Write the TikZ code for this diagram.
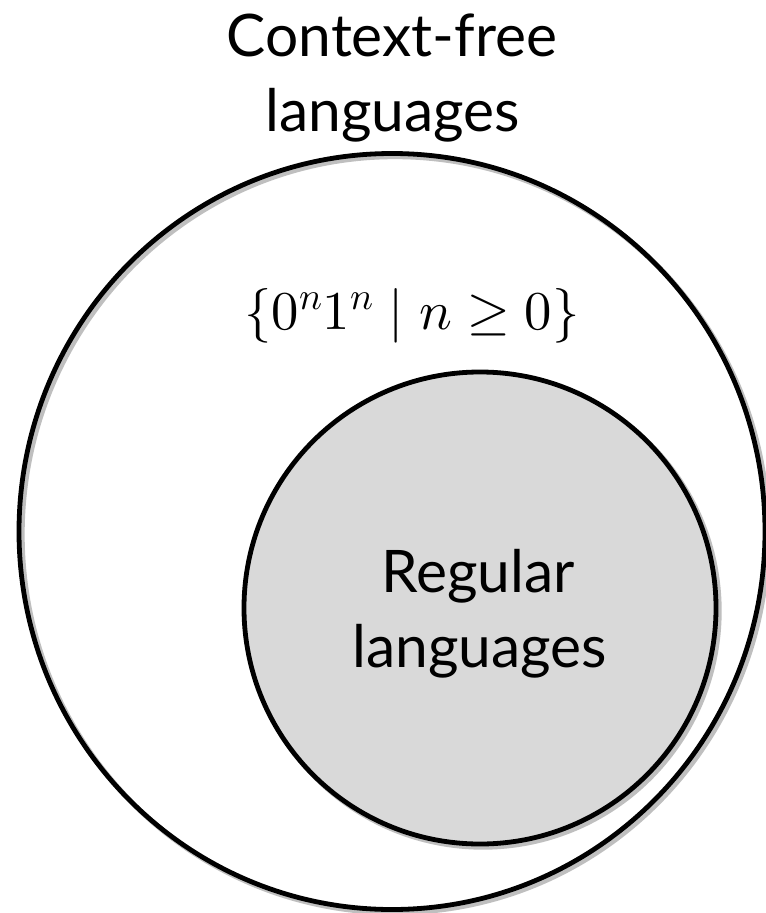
\documentclass[tikz,border=0pt]{standalone}
\usepackage{fontspec}
\setmainfont{Lato}
\usepackage{unicode-math}
\setmathfont{Latin Modern Math}
\begin{document}
\begin{tikzpicture}[x=0.75pt,y=-0.75pt,
  ring/.style={draw=black,line width=3.6pt},
  shade/.style={draw=black!25,line width=4pt},
  lbl/.style={anchor=base,inner sep=0pt,font=\fontsize{44}{53}\selectfont}]
\useasboundingbox (0,0) rectangle (766,913);
% outer
\draw[shade] (395,534.5) ellipse [x radius=373, y radius=378];
\draw[ring] (392,531.5) ellipse [x radius=373, y radius=378];
% inner
\draw[shade] (483,611) circle [radius=236];
\draw[ring,fill=black!15] (480,608) circle [radius=236];
\node[lbl] (cfl1) at (392,57) {Context-free};
\node[lbl] (cfl2) at (393,132) {languages};
\node[lbl] (reg1) at (478,592) {Regular};
\node[lbl] (reg2) at (480,667) {languages};
\node[anchor=base,inner sep=0pt,font=\fontsize{41}{48}\selectfont] (ex) at (412,329) {$\{0^n1^n \mid n\geq 0\}$};
\end{tikzpicture}
\end{document}
